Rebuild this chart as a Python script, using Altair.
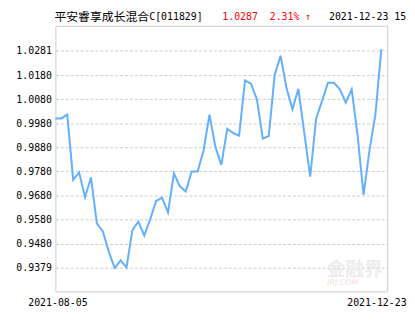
import altair as alt
import pandas as pd

# Fund NAV series, first point 2021-08-05, last 2021-12-23
nav = [
    1.0000, 1.0000, 1.0016, 0.9745, 0.9776, 0.9673, 0.9755, 0.9563, 0.9532, 0.9447,
    0.9379, 0.9411, 0.9381, 0.9537, 0.9571, 0.9514, 0.9582, 0.9657, 0.9671, 0.9609,
    0.9772, 0.9718, 0.9697, 0.9780, 0.9780, 0.9867, 1.0016, 0.9882, 0.9807, 0.9957,
    0.9939, 0.9929, 1.0158, 1.0144, 1.0080, 0.9916, 0.9927, 1.0180, 1.0260, 1.0126,
    1.0038, 1.0123, 0.9940, 0.9758, 1.0000, 1.0073, 1.0148, 1.0148, 1.0121, 1.0066,
    1.0121, 0.9929, 0.9683, 0.9867, 1.0016, 1.0287,
]
date_labels = ["2021-08-05", "2021-12-23"]
y_ticks = [0.9379, 0.9480, 0.9580, 0.9680, 0.9780, 0.9880, 0.9980, 1.0080, 1.0180, 1.0281]

fund_name = "平安睿享成长混合"
fund_code = "C[011829]"
latest_nav = "1.0287"
latest_change = "2.31% ↑"
latest_time = "2021-12-23 15:"

df = pd.DataFrame({"i": list(range(len(nav))), "nav": nav})
last_i = len(nav) - 1

mono = "DejaVu Sans Mono"

x_enc = alt.X(
    "i:Q",
    scale=alt.Scale(domain=[0, 56], nice=False, zero=False),
    axis=alt.Axis(
        values=[0, last_i],
        labelExpr=f"datum.value == 0 ? '{date_labels[0]}' : '{date_labels[1]}'",
        grid=False, ticks=False, domain=False, title=None,
        labelFont=mono, labelFontSize=10, labelColor="#000000",
        labelPadding=6, labelFlush=False, labelAlign="center",
        labelOffset={"condition": {"test": "datum.value == 0", "value": 2}, "value": -5},
    ),
)
y_enc = alt.Y(
    "nav:Q",
    scale=alt.Scale(domain=[0.92818, 1.03847], nice=False, zero=False),
    axis=alt.Axis(
        values=y_ticks, format=".4f", title=None,
        grid=True, gridColor="#cccccc", gridDash=[3, 2], gridWidth=1,
        ticks=False, domain=False,
        labelFont=mono, labelFontSize=10, labelColor="#000000", labelPadding=4,
    ),
)

line = alt.Chart(df).mark_line(color="#62b0ff", strokeWidth=2).encode(x=x_enc, y=y_enc)

hdr = pd.DataFrame({"k": [0]})
def head(text, x, color, font, size=12):
    return alt.Chart(hdr).mark_text(
        text=text, align="left", baseline="middle", color=color, font=font, fontSize=size
    ).encode(x=alt.value(x), y=alt.value(-8.5))

t1 = head(fund_name, -1, "#000000", "Noto Sans CJK SC", 12)
t1b = head(fund_code, 95, "#000000", mono, 10)
t2 = head(latest_nav, 169, "#ff0000", mono, 10)
t3 = head(latest_change, 217, "#ff0000", mono, 10)
t4 = head(latest_time, 277, "#000000", mono, 10)

wm1 = alt.Chart(hdr).mark_text(
    text="金融界", align="center", baseline="middle", color="#ededed",
    font="Noto Sans CJK SC", fontSize=19, fontWeight="bold"
).encode(x=alt.value(303), y=alt.value(247))
wm2 = alt.Chart(hdr).mark_text(
    text="JRJ.COM", align="center", baseline="middle", color="#f6dcdc",
    font="DejaVu Sans", fontSize=8, fontStyle="italic"
).encode(x=alt.value(291), y=alt.value(261))

chart = alt.layer(wm1, wm2, line, t1, t1b, t2, t3, t4).properties(
    width=336, height=269,
    autosize=alt.AutoSizeParams(type="none"),
    padding={"left": 48, "top": 16, "right": 20, "bottom": 30},
    background="#ffffff",
).configure_view(stroke="#cccccc", strokeWidth=1)

chart.save("out.html", embed_options={"renderer": "svg", "actions": False})
